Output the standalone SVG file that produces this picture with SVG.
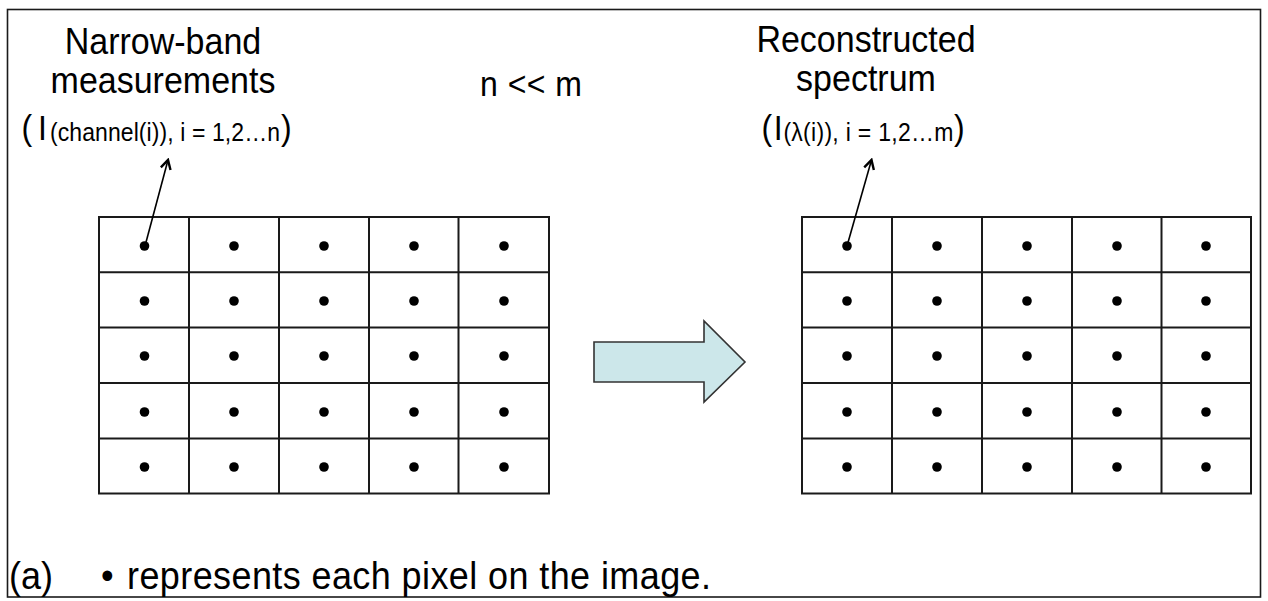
<svg xmlns="http://www.w3.org/2000/svg" width="1268" height="601" viewBox="0 0 1268 601">
<defs>
<style>
text{font-family:"Liberation Sans",Arial,sans-serif;fill:#000}
.t{font-size:34px}
.b{font-size:32px}
.s{font-size:23px}
.d{fill:#000}
.p{stroke:#000;stroke-width:1.6;fill:none}
</style>
<marker id="ah" viewBox="0 0 12 12" refX="10" refY="6" markerWidth="12" markerHeight="12" markerUnits="userSpaceOnUse" orient="auto">
<path d="M1,1 L10,6 L1,11" fill="none" stroke="#000" stroke-width="2.4"/>
</marker>
</defs>
<rect width="1268" height="601" fill="#fff"/>
<rect x="7.5" y="9.5" width="1253" height="587.5" fill="none" stroke="#1a1a1a" stroke-width="1.6"/>

<g id="left-label">
<text class="t" transform="translate(163,54) scale(1,1.1)" text-anchor="middle">Narrow-band</text>
<text class="t" transform="translate(163,93) scale(1,1.1)" text-anchor="middle">measurements</text>
<text class="b" transform="translate(21.5,140) scale(1,1.1)">(</text>
<text class="b" transform="translate(38,140) scale(1,1.1)">I</text>
<text class="s" transform="translate(50,141) scale(1,1.1)" textLength="230" lengthAdjust="spacing">(channel(i)), i = 1,2…n</text>
<text class="b" transform="translate(281,140) scale(1,1.1)">)</text>
</g>

<g id="ratio">
<text class="b" transform="translate(480,96) scale(1,1.1)" textLength="102" lengthAdjust="spacing">n &lt;&lt; m</text>
</g>

<g id="right-label">
<text class="t" transform="translate(866,52) scale(1,1.1)" text-anchor="middle">Reconstructed</text>
<text class="t" transform="translate(866,91) scale(1,1.1)" text-anchor="middle">spectrum</text>
<text class="b" transform="translate(761.6,140) scale(1,1.1)">(</text>
<text class="b" transform="translate(773.7,140) scale(1,1.1)">I</text>
<text class="s" transform="translate(783.4,140.5) scale(1,1.1)" textLength="170" lengthAdjust="spacing">(λ(i)), i = 1,2…m</text>
<text class="b" transform="translate(954,140) scale(1,1.1)">)</text>
</g>

<g id="left-grid">
<g fill="none" stroke="#1a1a1a" stroke-width="2">
<rect x="99" y="217" width="450" height="276.5"/>
<path d="M189,217V493.5M279,217V493.5M369,217V493.5M458.5,217V493.5M99,272.3H549M99,327.6H549M99,383H549M99,438.5H549"/>
</g>
<g class="d">
<circle cx="144.5" cy="246" r="4.8"/><circle cx="234" cy="246" r="4.8"/><circle cx="324" cy="246" r="4.8"/><circle cx="414" cy="246" r="4.8"/><circle cx="504" cy="246" r="4.8"/>
<circle cx="144.5" cy="301" r="4.8"/><circle cx="234" cy="301" r="4.8"/><circle cx="324" cy="301" r="4.8"/><circle cx="414" cy="301" r="4.8"/><circle cx="504" cy="301" r="4.8"/>
<circle cx="144.5" cy="356" r="4.8"/><circle cx="234" cy="356" r="4.8"/><circle cx="324" cy="356" r="4.8"/><circle cx="414" cy="356" r="4.8"/><circle cx="504" cy="356" r="4.8"/>
<circle cx="144.5" cy="412" r="4.8"/><circle cx="234" cy="412" r="4.8"/><circle cx="324" cy="412" r="4.8"/><circle cx="414" cy="412" r="4.8"/><circle cx="504" cy="412" r="4.8"/>
<circle cx="144.5" cy="467" r="4.8"/><circle cx="234" cy="467" r="4.8"/><circle cx="324" cy="467" r="4.8"/><circle cx="414" cy="467" r="4.8"/><circle cx="504" cy="467" r="4.8"/>
</g>
</g>

<g id="right-grid">
<g fill="none" stroke="#1a1a1a" stroke-width="2">
<rect x="802" y="217" width="449" height="276.5"/>
<path d="M892,217V493.5M982,217V493.5M1072,217V493.5M1161.5,217V493.5M802,272.3H1251M802,327.6H1251M802,383H1251M802,438.5H1251"/>
</g>
<g class="d">
<circle cx="847" cy="246" r="4.8"/><circle cx="937" cy="246" r="4.8"/><circle cx="1027" cy="246" r="4.8"/><circle cx="1117" cy="246" r="4.8"/><circle cx="1206" cy="246" r="4.8"/>
<circle cx="847" cy="301" r="4.8"/><circle cx="937" cy="301" r="4.8"/><circle cx="1027" cy="301" r="4.8"/><circle cx="1117" cy="301" r="4.8"/><circle cx="1206" cy="301" r="4.8"/>
<circle cx="847" cy="356" r="4.8"/><circle cx="937" cy="356" r="4.8"/><circle cx="1027" cy="356" r="4.8"/><circle cx="1117" cy="356" r="4.8"/><circle cx="1206" cy="356" r="4.8"/>
<circle cx="847" cy="412" r="4.8"/><circle cx="937" cy="412" r="4.8"/><circle cx="1027" cy="412" r="4.8"/><circle cx="1117" cy="412" r="4.8"/><circle cx="1206" cy="412" r="4.8"/>
<circle cx="847" cy="467" r="4.8"/><circle cx="937" cy="467" r="4.8"/><circle cx="1027" cy="467" r="4.8"/><circle cx="1117" cy="467" r="4.8"/><circle cx="1206" cy="467" r="4.8"/>
</g>
</g>

<g id="big-arrow">
<polygon points="594,342 704,342 704,321 745,362 704,402 704,382 594,382" fill="#cce7ea" stroke="#333" stroke-width="1.6" stroke-linejoin="miter"/>
</g>

<g id="connectors">
<line class="p" x1="145" y1="246" x2="168" y2="160" marker-end="url(#ah)"/>
<line class="p" x1="847" y1="246" x2="871.5" y2="160" marker-end="url(#ah)"/>
</g>

<g id="caption">
<text font-size="36" transform="translate(9,589) scale(1,1.08)">(a)</text>
<text font-size="36" transform="translate(101,589) scale(1,1.08)">•</text>
<text font-size="36" transform="translate(127,589) scale(1,1.08)" textLength="584" lengthAdjust="spacing">represents each pixel on the image.</text>
</g>
</svg>
